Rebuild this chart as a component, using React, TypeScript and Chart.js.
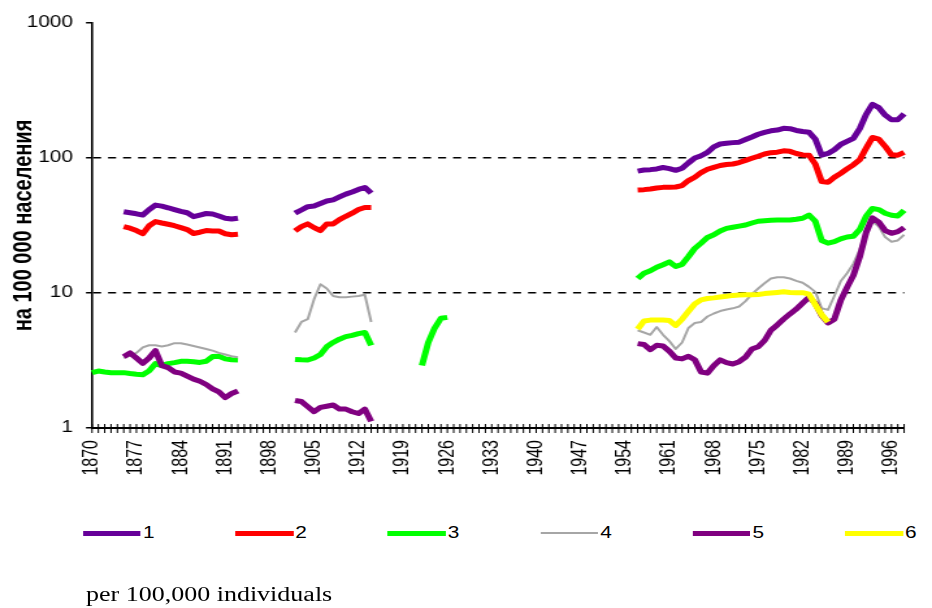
import React, { useEffect, useRef } from "react";
import { Chart, registerables } from "chart.js";

Chart.register(...registerables);

// ---------------- data ----------------
const FIRST_YEAR = 1870;
const LAST_YEAR = 1998;
const years: string[] = [];
for (let y = FIRST_YEAR; y <= LAST_YEAR; y++) years.push(String(y));

const xTickYears = [1870, 1877, 1884, 1891, 1898, 1905, 1912, 1919, 1926, 1933, 1940, 1947, 1954, 1961, 1968, 1975, 1982, 1989, 1996];
const yTickValues = [1, 10, 100, 1000];
const yAxisTitle = "на 100 000 населения";
const caption = "per 100,000 individuals";
const seriesNames = ["1", "2", "3", "4", "5", "6"];

// series 1
const s1From1875 = [40, 39.3, 38.6, 37.8, 41.5, 44.8, 44, 42.8, 41.5, 40.3, 39.3, 36.8, 37.8, 38.8, 38.5, 37.2, 35.8, 35.3, 35.8];
const s1From1902 = [39, 41.2, 43.6, 44.1, 46, 48, 49, 51.5, 54, 56, 58.5, 60.5, 55];
const s1From1956 = [80, 81.5, 82, 83, 85, 83.5, 81, 84, 92, 100, 104, 110, 121, 127, 128.5, 130, 131, 137, 143, 150, 155, 159, 161, 166, 165, 160, 157, 155, 138, 105, 108, 115, 126, 133, 140, 165, 210, 250, 236, 208, 192, 192, 212];
// series 2
const s2From1875 = [31, 30.2, 29, 27.5, 31.5, 33.8, 33, 32.3, 31.5, 30.5, 29.5, 27.6, 28.2, 29, 28.8, 28.8, 27.5, 27, 27.2];
const s2From1902 = [28.8, 31, 32.5, 30.5, 29, 32.5, 32.5, 35, 37, 39, 41.5, 43, 43];
const s2From1956 = [58, 58.3, 59, 60, 60.6, 60.6, 61, 62.5, 68, 72, 78, 82.5, 85.3, 88, 89.5, 90.3, 92.5, 96, 99.5, 103, 107, 109.5, 110.5, 113, 112, 108, 105.3, 105, 90, 67, 66, 72, 77, 83, 89, 97, 118, 142, 138, 122, 105.5, 105, 110];
// series 3
const s3From1870 = [2.57, 2.64, 2.6, 2.57, 2.57, 2.57, 2.53, 2.5, 2.48, 2.65, 3.0, 2.9, 3.0, 3.05, 3.12, 3.12, 3.1, 3.06, 3.12, 3.38, 3.4, 3.25, 3.2, 3.19];
const s3From1902 = [3.22, 3.2, 3.19, 3.3, 3.5, 4.0, 4.3, 4.55, 4.75, 4.85, 5.0, 5.1, 4.1];
const s3From1922 = [2.9, 4.3, 5.5, 6.5, 6.6];
const s3From1956 = [12.8, 14.0, 14.6, 15.5, 16.2, 17, 15.7, 16.3, 18.6, 21.4, 23.4, 25.8, 27, 28.8, 30.1, 30.7, 31.3, 31.9, 33, 34, 34.3, 34.6, 34.7, 34.7, 34.7, 35.2, 35.8, 37.8, 34, 24.5, 23.4, 24, 25.2, 26, 26.3, 29.5, 37, 42.3, 41.5, 39, 37.7, 37.2, 41];
// series 4
const s4From1875 = [3.3, 3.45, 3.6, 3.95, 4.1, 4.1, 4.02, 4.1, 4.25, 4.25, 4.15, 4.05, 3.95, 3.85, 3.74, 3.6, 3.5, 3.4, 3.34];
const s4From1902 = [5.1, 6.1, 6.4, 9.0, 11.6, 10.8, 9.5, 9.3, 9.3, 9.4, 9.5, 9.7, 6.1];
const s4From1956 = [5.3, 5.1, 4.9, 5.6, 4.9, 4.4, 3.85, 4.3, 5.5, 6.0, 6.1, 6.7, 7.05, 7.35, 7.55, 7.7, 7.95, 8.7, 9.8, 10.8, 11.8, 12.8, 13.1, 13.1, 12.8, 12.3, 11.9, 11.1, 10.2, 7.7, 7.5, 9.5, 12.2, 14, 16.5, 21, 28, 34, 31, 26, 24, 24.5, 27];
// series 5
const s5From1875 = [3.37, 3.6, 3.3, 3.01, 3.3, 3.74, 2.9, 2.8, 2.6, 2.55, 2.42, 2.3, 2.22, 2.1, 1.95, 1.85, 1.68, 1.8, 1.88];
const s5From1902 = [1.6, 1.57, 1.44, 1.32, 1.42, 1.45, 1.48, 1.38, 1.38, 1.32, 1.28, 1.38, 1.12];
const s5From1956 = [4.22, 4.15, 3.8, 4.1, 4.05, 3.7, 3.3, 3.25, 3.4, 3.2, 2.6, 2.55, 2.9, 3.2, 3.05, 2.98, 3.1, 3.35, 3.85, 4.0, 4.45, 5.3, 5.8, 6.4, 7.0, 7.6, 8.4, 9.3, 8.4, 6.8, 6.0, 6.4, 8.8, 11, 13.5, 18.5, 28, 36, 33.5, 29, 27.7, 28.5, 30.5];
// series 6
const s6From1956 = [5.4, 6.2, 6.3, 6.3, 6.3, 6.25, 5.75, 6.4, 7.3, 8.3, 8.9, 9.1, 9.2, 9.35, 9.45, 9.6, 9.65, 9.7, 9.7, 9.75, 9.9, 10.0, 10.1, 10.2, 10.1, 10.05, 10.05, 9.8, 8.2, 6.9, 6.1];

// ---------------- styles ----------------
const seriesColors = ["#660099", "#FF0000", "#00FF00", "#A6A6A6", "#800080", "#FFFF00"];
const seriesWidths = [5, 5, 5, 2, 5, 5];

const S = 932 / 717; // horizontal stretch of the whole picture
const W = 717;
const CANVAS_H = 490;
const PLOT_TOP = 23;
const PLOT_BOTTOM = 428;
const SANS = "'Liberation Sans', Arial, sans-serif";
const SERIF = "'Liberation Serif', 'Times New Roman', serif";

function build(segments: [number, number[]][]): (number | null)[] {
  const arr: (number | null)[] = years.map(() => null);
  for (const [start, vals] of segments) {
    vals.forEach((v, i) => {
      arr[start - FIRST_YEAR + i] = v;
    });
  }
  return arr;
}

export default function App() {
  const ref = useRef<HTMLCanvasElement>(null);

  useEffect(() => {
    const canvas = ref.current;
    if (!canvas) return;
    const seriesData = [
      build([[1875, s1From1875], [1902, s1From1902], [1956, s1From1956]]),
      build([[1875, s2From1875], [1902, s2From1902], [1956, s2From1956]]),
      build([[1870, s3From1870], [1902, s3From1902], [1922, s3From1922], [1956, s3From1956]]),
      build([[1875, s4From1875], [1902, s4From1902], [1956, s4From1956]]),
      build([[1875, s5From1875], [1902, s5From1902], [1956, s5From1956]]),
      build([[1956, s6From1956]]),
    ];

    const crossTicks = {
      id: "crossTicks",
      afterDraw(chart: any) {
        const { ctx, chartArea } = chart;
        const x = chart.scales.x;
        ctx.save();
        ctx.strokeStyle = "#000";
        ctx.lineWidth = 1;
        ctx.beginPath();
        for (let i = 0; i < years.length; i++) {
          const px = x.getPixelForValue(i);
          ctx.moveTo(px, chartArea.bottom - 4);
          ctx.lineTo(px, chartArea.bottom + 5);
        }
        ctx.stroke();
        ctx.restore();
      },
    };

    const chart = new Chart(canvas, {
      type: "line",
      data: {
        labels: years,
        datasets: seriesData.map((d, i) => ({
          label: seriesNames[i],
          data: d,
          borderColor: seriesColors[i],
          backgroundColor: seriesColors[i],
          borderWidth: seriesWidths[i],
          pointRadius: 0,
          pointHoverRadius: 0,
          tension: 0,
          spanGaps: false,
          fill: false,
          borderJoinStyle: "round",
          borderCapStyle: "butt",
          order: 7 - i,
        })),
      },
      options: {
        animation: false,
        responsive: false,
        maintainAspectRatio: false,
        devicePixelRatio: 1,
        layout: { padding: { top: PLOT_TOP, left: 0, right: 0, bottom: 0 } },
        plugins: {
          legend: { display: false },
          tooltip: { enabled: false },
        },
        scales: {
          x: {
            type: "category",
            offset: false,
            grid: { display: false, drawTicks: false },
            border: { display: true, color: "#000", width: 2 },
            ticks: {
              autoSkip: false,
              minRotation: 90,
              maxRotation: 90,
              padding: 12,
              color: "#000",
              font: { family: SANS, size: 16 },
              callback: function (_v: any, index: number) {
                const yr = Number(years[index]);
                return xTickYears.includes(yr) ? years[index] : null;
              },
            },
            afterFit: (s: any) => {
              s.height = CANVAS_H - PLOT_BOTTOM;
            },
          },
          y: {
            type: "logarithmic",
            min: 1,
            max: 1000,
            afterBuildTicks: (s: any) => {
              s.ticks = yTickValues.map((v) => ({ value: v }));
            },
            afterFit: (s: any) => {
              s.width = 92 / S;
            },
            border: { display: true, color: "#000", width: 1.6, dash: [8 / S, 7 / S] },
            grid: {
              color: (ctx: any) =>
                ctx.tick && (ctx.tick.value === 10 || ctx.tick.value === 100) ? "#000" : "rgba(0,0,0,0)",
              lineWidth: 1.5,
              drawTicks: true,
              tickLength: 6 / S,
              tickColor: "#000",
              tickWidth: 1.5,
            },
            ticks: {
              padding: 10,
              color: "#000",
              font: { family: SANS, size: 16 },
              callback: (v: any) => String(v),
            },
            title: {
              display: true,
              text: yAxisTitle,
              color: "#000",
              font: { family: SANS, size: 20, weight: "bold" },
              padding: { top: 6.5, bottom: 0 },
            },
          },
        },
      },
      plugins: [crossTicks],
    } as any);

    return () => chart.destroy();
  }, []);

  return (
    <div
      style={{
        position: "absolute",
        left: 0,
        top: 0,
        width: W,
        height: 600,
        transform: `scaleX(${S})`,
        transformOrigin: "0 0",
        background: "#fff",
      }}
    >
      <canvas ref={ref} width={W} height={CANVAS_H} style={{ display: "block", width: W, height: CANVAS_H }} />
      {seriesNames.map((name, i) => (
        <div
          key={name}
          style={{
            position: "absolute",
            left: (83 + i * 152.4) / S,
            top: 533 - 9,
            height: 18,
            display: "flex",
            alignItems: "center",
          }}
        >
          <div style={{ width: 58 / S, height: seriesWidths[i], background: seriesColors[i] }} />
          <span
            style={{
              fontFamily: SANS,
              fontSize: 16,
              lineHeight: "18px",
              marginLeft: 2 / S,
              color: "#000",
            }}
          >
            {name}
          </span>
        </div>
      ))}
      <div
        style={{
          position: "absolute",
          left: 86 / S,
          top: 584,
          fontFamily: SERIF,
          fontSize: 20,
          lineHeight: "20px",
          whiteSpace: "nowrap",
          color: "#000",
        }}
      >
        {caption}
      </div>
    </div>
  );
}
